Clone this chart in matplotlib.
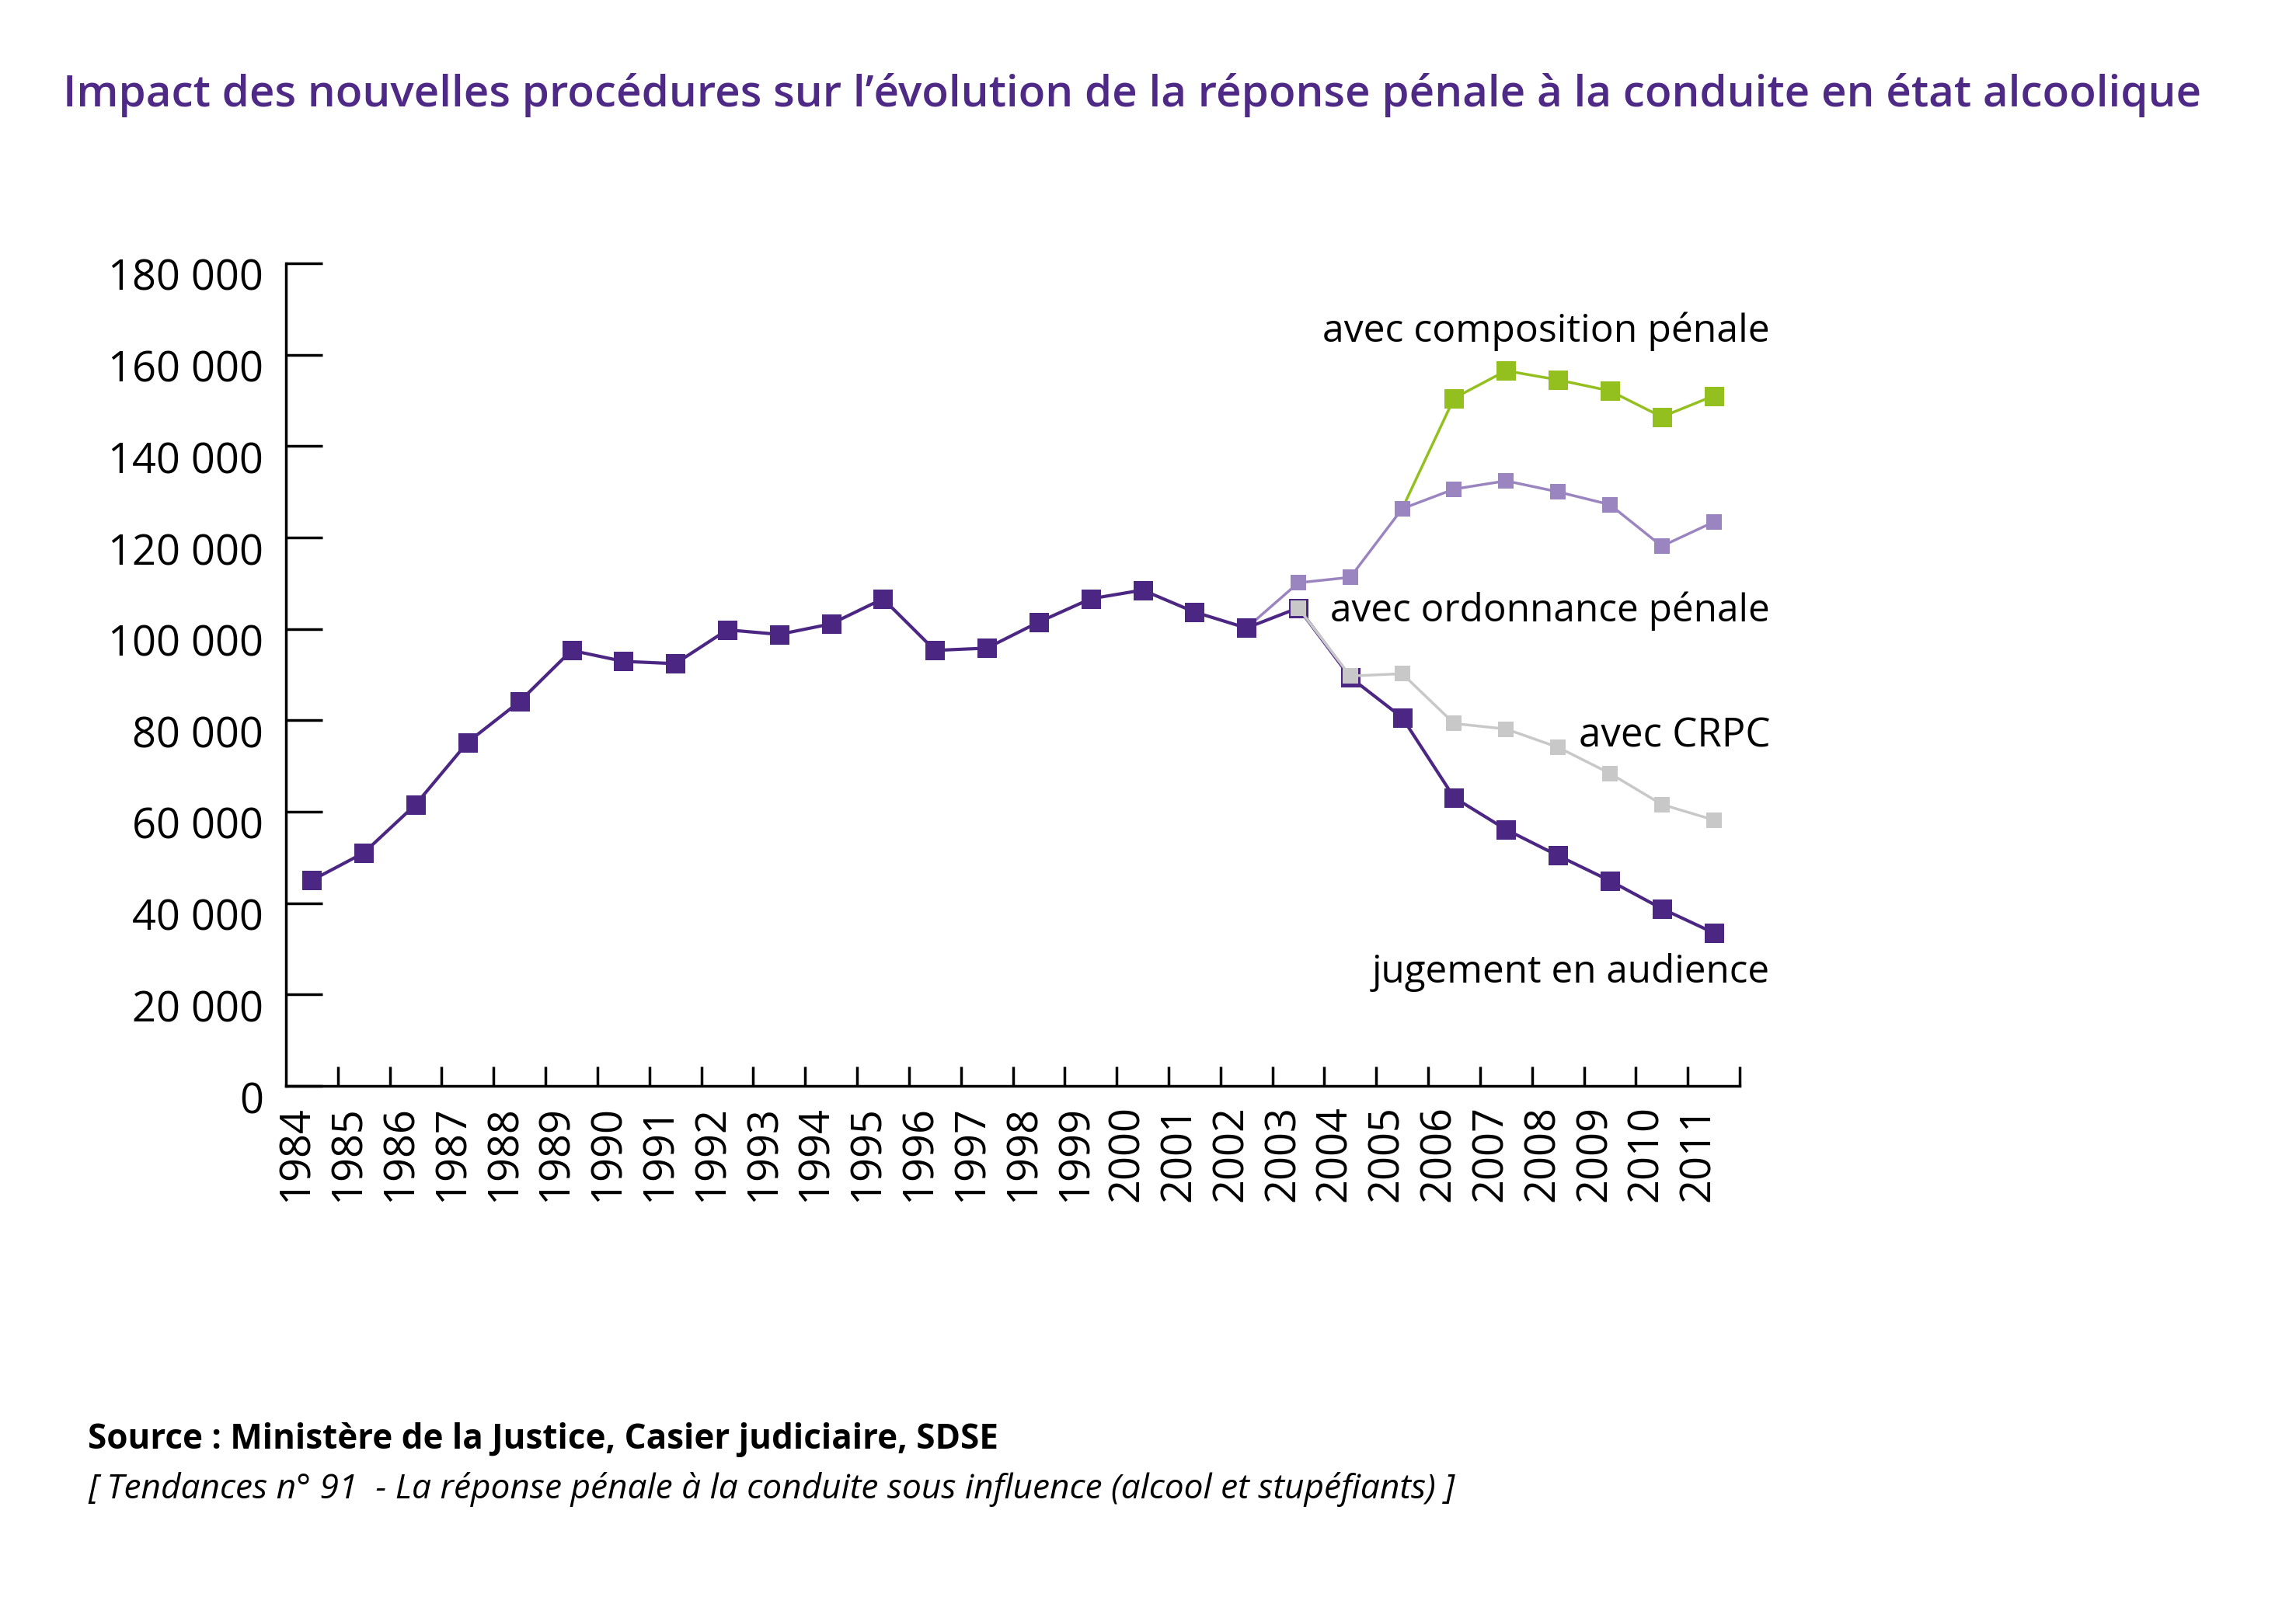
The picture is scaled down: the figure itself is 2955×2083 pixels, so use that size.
import matplotlib
matplotlib.use("Agg")
import matplotlib.pyplot as plt
from matplotlib.transforms import ScaledTranslation
import numpy as np

# ---------------- data ----------------
years = list(range(1984, 2012))
jugement = [45000, 51000, 61600, 75200, 84100, 95300, 92900, 92400, 99800, 98800,
            101100, 106600, 95300, 95800, 101500, 106600, 108500, 103700, 100200, 104600,
            89400, 80600, 63100, 56100, 50400, 44900, 38800, 33500]
ord_years = [2003, 2004, 2005, 2006, 2007, 2008, 2009, 2010, 2011]
ordonnance = [110100, 111300, 126300, 130600, 132400, 130000, 127200, 118100, 123400]
crpc_years = [2004, 2005, 2006, 2007, 2008, 2009, 2010, 2011]
crpc = [89700, 90200, 79300, 78100, 74100, 68400, 61600, 58200]
comp_years = [2006, 2007, 2008, 2009, 2010, 2011]
composition = [150500, 156500, 154500, 152100, 146400, 151000]
yticks = [0, 20000, 40000, 60000, 80000, 100000, 120000, 140000, 160000, 180000]

title = "Impact des nouvelles procédures sur l’évolution de la réponse pénale à la conduite en état alcoolique"
lab_comp = "avec composition pénale"
lab_ord = "avec ordonnance pénale"
lab_crpc = "avec CRPC"
lab_jug = "jugement en audience"
source = "Source : Ministère de la Justice, Casier judiciaire, SDSE"
ref = "[ Tendances n° 91  - La réponse pénale à la conduite sous influence (alcool et stupéfiants) ]"

# ---------------- style ----------------
C_JUG = "#4B2683"
C_ORD = "#9B85C0"
C_CRPC = "#C8C8C8"
C_COMP = "#93C01F"
C_TITLE = "#4E2A86"

W, H, DPI = 2955, 2083, 200
plt.rcParams['font.family'] = ['Open Sans', 'DejaVu Sans']
fig = plt.figure(figsize=(W / DPI, H / DPI), dpi=DPI)
fig.patch.set_facecolor("white")


def fx(px):
    return px / W


def fy(py):
    return 1 - py / H


ax = fig.add_axes([fx(368), fy(1398), fx(2239) - fx(368), fy(339) - fy(1398)])

idx = {y: i for i, y in enumerate(years)}
xj = np.arange(len(years))

BIG = 25 * 72 / DPI
SMALL = 20 * 72 / DPI

# composition: starts from ordonnance 2005 value
xc = [idx[2005]] + [idx[y] for y in comp_years]
yc = [ordonnance[ord_years.index(2005)]] + composition
ax.plot(xc, yc, color=C_COMP, lw=1.25, zorder=2)
ax.plot(xc[1:], yc[1:], ls='none', marker='s', ms=BIG, mew=0, color=C_COMP, zorder=2.1)

# ordonnance: starts from jugement 2002 value
xo = [idx[2002]] + [idx[y] for y in ord_years]
yo = [jugement[idx[2002]]] + ordonnance
ax.plot(xo, yo, color=C_ORD, lw=1.25, zorder=3)
ax.plot(xo[1:], yo[1:], ls='none', marker='s', ms=SMALL, mew=0, color=C_ORD, zorder=3.1)

# jugement en audience
ax.plot(xj, jugement, color=C_JUG, lw=1.5, zorder=4)
ax.plot(xj, jugement, ls='none', marker='s', ms=BIG, mew=0, color=C_JUG, zorder=4.1)

# CRPC: starts from jugement 2003 value
xr = [idx[2003]] + [idx[y] for y in crpc_years]
yr = [jugement[idx[2003]]] + crpc
ax.plot(xr, yr, color=C_CRPC, lw=1.25, zorder=5)
ax.plot(xr, yr, ls='none', marker='s', ms=SMALL, mew=0, color=C_CRPC, zorder=5.1)

# ---------------- axes ----------------
ax.set_xlim(-0.5, len(years) - 0.5)
ax.set_ylim(0, 180000)
for s in ['top', 'right']:
    ax.spines[s].set_visible(False)
for s in ['left', 'bottom']:
    ax.spines[s].set_linewidth(1.25)
    ax.spines[s].set_color('black')
    ax.spines[s].set_capstyle('projecting')

ax.set_yticks(yticks)
ax.set_yticklabels([f"{v:,}".replace(",", " ") for v in yticks])
ax.tick_params(axis='y', direction='in', length=47 * 72 / DPI, width=1.25,
               pad=10.4, labelsize=19.5, colors='black')

ax.set_xticks(np.arange(len(years)) + 0.5)
ax.set_xticklabels([])
ax.set_xticks(np.arange(len(years)) - 0.3, minor=True)
ax.set_xticklabels([str(y) for y in years], minor=True, rotation=90)
ax.tick_params(axis='x', which='major', direction='in', length=25 * 72 / DPI, width=1.25)
ax.tick_params(axis='x', which='minor', length=0, pad=9, labelsize=19.5)

off = ScaledTranslation(0, -14 / DPI, fig.dpi_scale_trans)
for lab in ax.get_yticklabels():
    lab.set_transform(lab.get_transform() + off)

# ---------------- texts ----------------
t_title = fig.text(fx(81), fy(137), title, color=C_TITLE, fontsize=22,
                   fontweight='semibold', ha='left', va='baseline')
RX = fx(2278)
t1 = fig.text(RX, fy(440), lab_comp, ha='right', va='baseline', fontsize=18)
t2 = fig.text(RX, fy(800), lab_ord, ha='right', va='baseline', fontsize=18)
t3 = fig.text(RX, fy(961), lab_crpc, ha='right', va='baseline', fontsize=18)
t4 = fig.text(RX, fy(1265), lab_jug, ha='right', va='baseline', fontsize=18)
t_src = fig.text(fx(113), fy(1865), source, ha='left', va='baseline', fontsize=16,
                 fontweight='bold')
t_ref = fig.text(fx(113), fy(1929), ref, ha='left', va='baseline', fontsize=16,
                 style='italic')

renderer = fig.canvas.get_renderer()


def fit(t, target):
    bb = t.get_window_extent(renderer)
    t.set_fontsize(t.get_fontsize() * target / bb.width)


fit(t_title, 2751)
fit(t1, 576)
fit(t2, 566)
fit(t3, 246)
fit(t4, 512)
fit(t_src, 1176)
fit(t_ref, 1762)

fig.savefig("out.png", dpi=DPI, facecolor="white")
